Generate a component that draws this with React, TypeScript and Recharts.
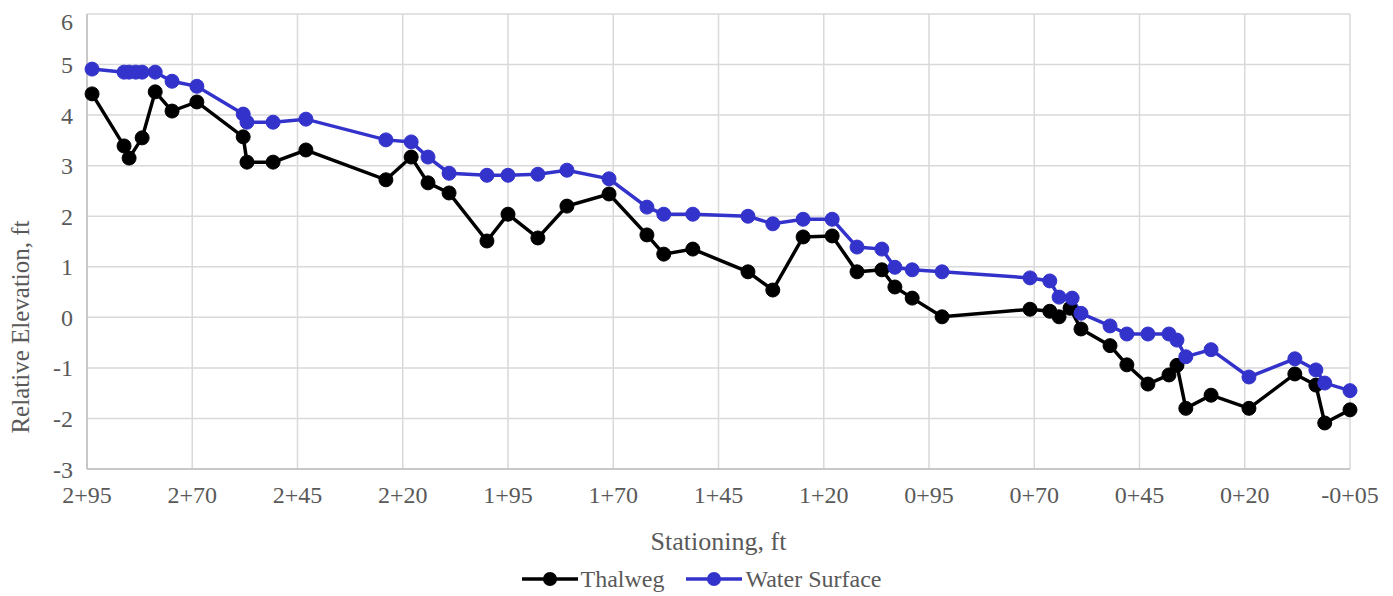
import { LineChart, Line, XAxis, YAxis, CartesianGrid, Legend } from "recharts";

const stationTicks = [295, 270, 245, 220, 195, 170, 145, 120, 95, 70, 45, 20, -5];
const elevTicks = [-3, -2, -1, 0, 1, 2, 3, 4, 5, 6];

const thalwegStation = [
  293.8, 286.2, 285, 281.9, 278.8, 274.8, 268.9, 257.9, 257, 250.8, 243, 224, 218, 214, 209,
  200, 195, 187.9, 181, 171, 162, 158, 151.1, 138, 132.1, 124.9, 118, 112.1, 106.2, 103.1, 99,
  91.9, 71, 66.3, 64.1, 61.5, 58.9, 52, 48, 43, 38, 36.1, 34, 28, 19, 8.1, 3.1, 1, -5,
];
const thalwegElev = [
  4.42, 3.39, 3.15, 3.55, 4.46, 4.08, 4.26, 3.57, 3.07, 3.07, 3.31, 2.72, 3.17, 2.66, 2.46,
  1.51, 2.04, 1.57, 2.2, 2.44, 1.63, 1.25, 1.35, 0.9, 0.54, 1.59, 1.61, 0.9, 0.94, 0.6, 0.38,
  0.01, 0.16, 0.12, 0.01, 0.18, -0.23, -0.56, -0.94, -1.32, -1.14, -0.95, -1.8, -1.54, -1.8,
  -1.12, -1.34, -2.09, -1.83,
];

const waterStation = [
  293.8, 286.2, 285, 283.4, 281.9, 278.8, 274.8, 268.9, 257.9, 257, 250.8, 243, 224, 218, 214,
  209, 200, 195, 187.9, 181, 171, 162, 158, 151.1, 138, 132.1, 124.9, 118, 112.1, 106.2, 103.1,
  99, 91.9, 71, 66.3, 64.1, 61, 58.9, 52, 48, 43, 38, 36.1, 34, 28, 19, 8.1, 3.1, 1, -5,
];
const waterElev = [
  4.91, 4.85, 4.85, 4.85, 4.85, 4.85, 4.67, 4.57, 4.02, 3.86, 3.86, 3.92, 3.51, 3.47, 3.17,
  2.85, 2.81, 2.81, 2.83, 2.91, 2.74, 2.18, 2.04, 2.04, 2.0, 1.85, 1.94, 1.94, 1.39, 1.35, 0.99,
  0.94, 0.9, 0.78, 0.72, 0.4, 0.38, 0.08, -0.17, -0.33, -0.33, -0.33, -0.45, -0.78, -0.64,
  -1.18, -0.82, -1.04, -1.3, -1.45,
];

const thalwegData = thalwegStation.map((s, i) => ({ station: s, elev: thalwegElev[i] }));
const waterData = waterStation.map((s, i) => ({ station: s, elev: waterElev[i] }));

const FONT = "Liberation Serif";
const TEXT = "#595959";
const BLUE = "#3333CC";

function fmtStation(v: number) {
  const a = Math.abs(v);
  const s = `${Math.floor(a / 100)}+${String(Math.round(a % 100)).padStart(2, "0")}`;
  return v < 0 ? `-${s}` : s;
}

function LegendContent() {
  const item = (color: string, label: string) => (
    <div style={{ display: "flex", alignItems: "center", marginRight: 22 }}>
      <svg width={56} height={16}>
        <line x1={0} y1={8} x2={56} y2={8} stroke={color} strokeWidth={3.5} />
        <circle cx={28} cy={8} r={7} fill={color} />
      </svg>
      <span style={{ marginLeft: 3, color: TEXT, fontFamily: FONT, fontSize: 24 }}>{label}</span>
    </div>
  );
  return (
    <div style={{ display: "flex", justifyContent: "center", alignItems: "center", height: 34, paddingLeft: 24 }}>
      {item("#000000", "Thalweg")}
      {item(BLUE, "Water Surface")}
    </div>
  );
}

export default function App() {
  return (
    <div style={{ fontFamily: FONT }}>
      <LineChart width={1385} height={588} margin={{ top: 6, right: 43, left: 0, bottom: 0 }} style={{ fontFamily: FONT }}>
        <CartesianGrid stroke="#d9d9d9" strokeWidth={1.5} />
        <XAxis
          dataKey="station"
          type="number"
          domain={[-5, 295]}
          reversed
          ticks={stationTicks}
          tickFormatter={fmtStation}
          allowDuplicatedCategory={false}
          stroke="#bfbfbf"
          strokeWidth={1.5}
          tickLine={false}
          tickSize={0}
          tickMargin={17}
          height={93}
          tick={{ fill: TEXT, fontSize: 24, fontFamily: FONT }}
          label={{ value: "Stationing, ft", position: "insideBottom", offset: 12, fill: TEXT, fontSize: 26, fontFamily: FONT }}
        />
        <YAxis
          type="number"
          domain={[-3, 6]}
          ticks={elevTicks}
          width={79}
          stroke="#bfbfbf"
          strokeWidth={1.5}
          tickLine={false}
          tickSize={0}
          tickMargin={14}
          tick={{ fill: TEXT, fontSize: 24, fontFamily: FONT }}
          label={{
            content: () => (
              <text
                x={12}
                y={319}
                transform="rotate(-90, 12, 319)"
                textAnchor="middle"
                dominantBaseline="central"
                fill={TEXT}
                fontSize={25}
                fontFamily={FONT}
              >
                Relative Elevation, ft
              </text>
            ),
          }}
        />
        <Legend verticalAlign="bottom" wrapperStyle={{ left: 0, width: 1385 }} content={() => <LegendContent />} />
        <Line
          data={thalwegData}
          dataKey="elev"
          name="Thalweg"
          stroke="#000000"
          strokeWidth={3.5}
          dot={{ r: 7, fill: "#000000", stroke: "#000000", strokeWidth: 1 }}
          isAnimationActive={false}
        />
        <Line
          data={waterData}
          dataKey="elev"
          name="Water Surface"
          stroke={BLUE}
          strokeWidth={3.5}
          dot={{ r: 7, fill: BLUE, stroke: BLUE, strokeWidth: 1 }}
          isAnimationActive={false}
        />
      </LineChart>
    </div>
  );
}
